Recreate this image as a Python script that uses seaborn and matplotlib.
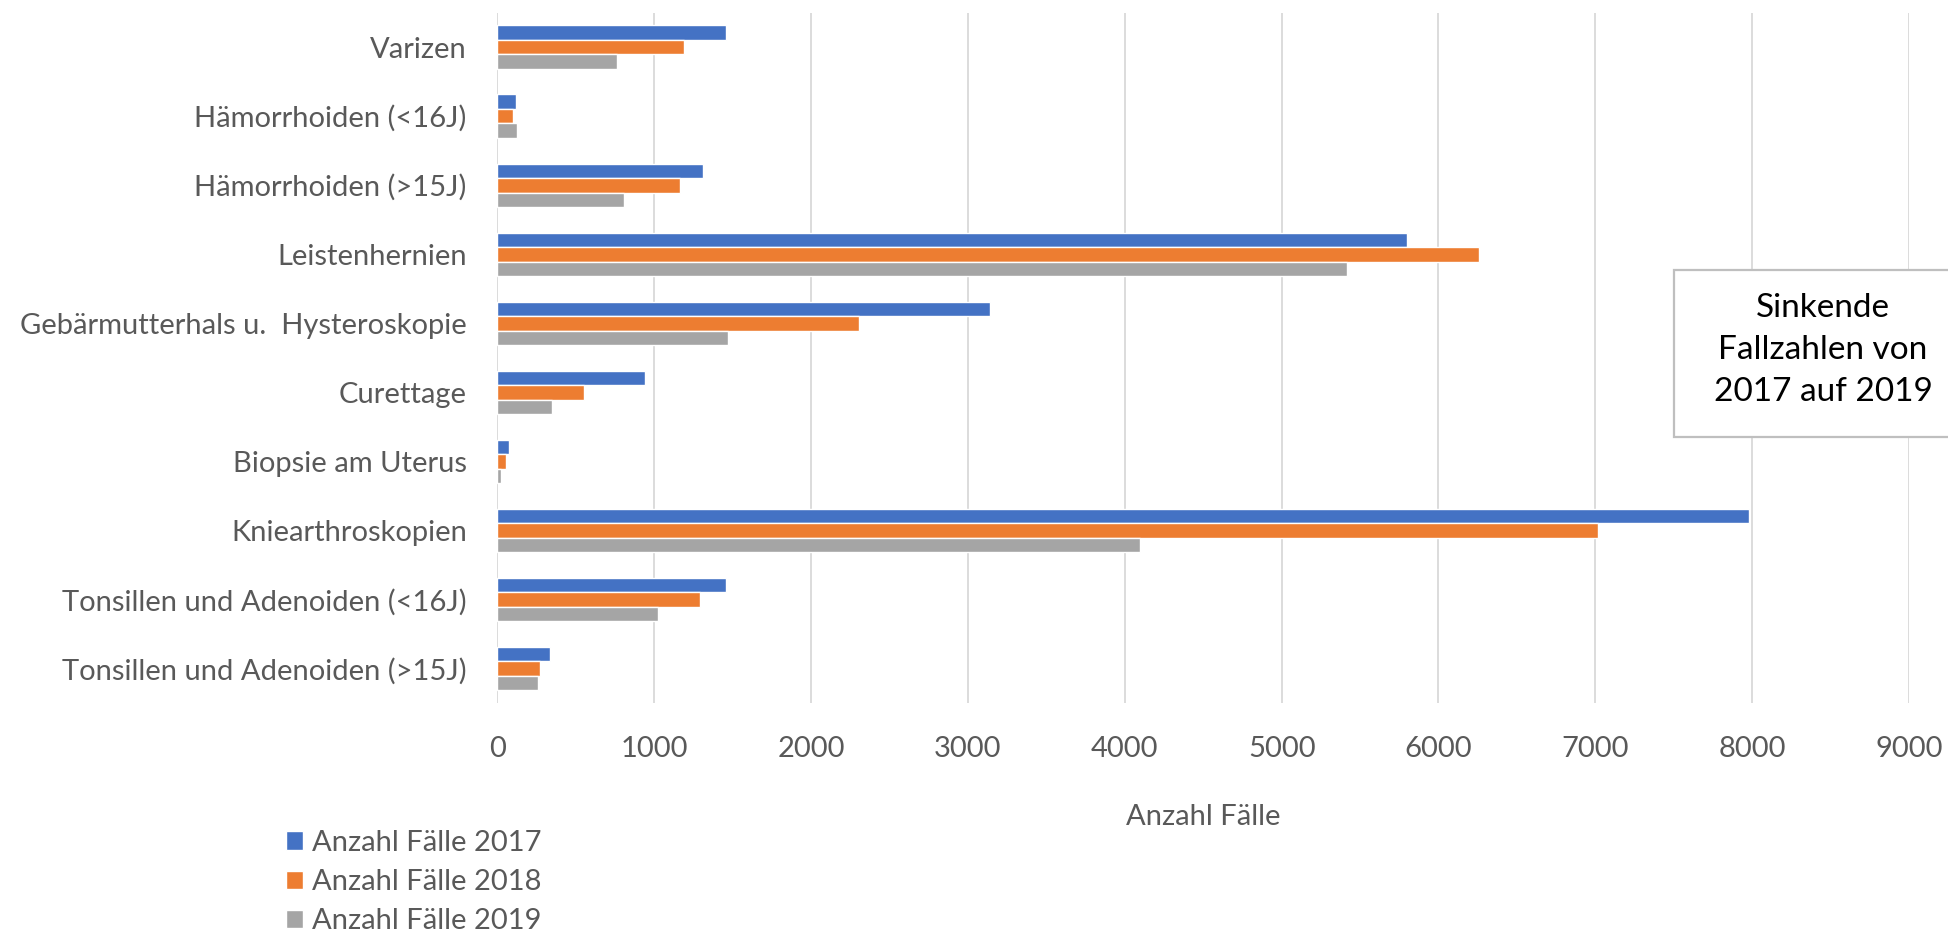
import matplotlib
matplotlib.use("Agg")
import matplotlib.pyplot as plt
from matplotlib.patches import Rectangle
import pandas as pd
import seaborn as sns

# Categories (top to bottom) and case counts per year
categories = [
    "Varizen",
    "Hämorrhoiden (<16J)",
    "Hämorrhoiden (>15J)",
    "Leistenhernien",
    "Gebärmutterhals u.  Hysteroskopie",
    "Curettage",
    "Biopsie am Uterus",
    "Kniearthroskopien",
    "Tonsillen und Adenoiden (<16J)",
    "Tonsillen und Adenoiden (>15J)",
]
faelle_2017 = [1455, 118, 1310, 5800, 3140, 940, 73, 7980, 1460, 335]
faelle_2018 = [1190, 100, 1165, 6260, 2305, 552, 56, 7020, 1290, 272]
faelle_2019 = [762, 124, 808, 5414, 1471, 346, 22, 4100, 1021, 262]
series_labels = ["Anzahl Fälle 2017", "Anzahl Fälle 2018", "Anzahl Fälle 2019"]
x_ticks = [0, 1000, 2000, 3000, 4000, 5000, 6000, 7000, 8000, 9000]
x_title = "Anzahl Fälle"
note_text = "Sinkende\nFallzahlen von\n2017 auf 2019"

colors = ["#4472C4", "#ED7D31", "#A5A5A5"]
text_grey = "#595959"
grid_grey = "#D9D9D9"

rows = []
for label, values in zip(series_labels, [faelle_2017, faelle_2018, faelle_2019]):
    for cat, v in zip(categories, values):
        rows.append({"Kategorie": cat, "Serie": label, "Faelle": v})
df = pd.DataFrame(rows)

sns.set_style("white")
plt.rcParams["font.family"] = ["Lato", "DejaVu Sans"]

fig = plt.figure(figsize=(19.49, 9.33), dpi=100)
ax = fig.add_axes([0.2552, 0.2465, 0.9795 - 0.2552, 0.9864 - 0.2465])

sns.barplot(
    data=df, y="Kategorie", x="Faelle", hue="Serie",
    order=categories, hue_order=series_labels, palette=colors,
    width=0.63, orient="h", ax=ax, saturation=1, legend=True,
)

ax.set_xlim(0, 9000)
ax.set_ylim(len(categories) - 0.5, -0.5)
ax.set_xticks(x_ticks)
ax.set_xticklabels([str(t) for t in x_ticks])
ax.xaxis.grid(True, color=grid_grey, linewidth=1.3)
ax.yaxis.grid(False)
ax.set_axisbelow(True)
for s in ax.spines.values():
    s.set_visible(False)

ax.tick_params(axis="both", length=0, labelcolor=text_grey, labelsize=21)
ax.tick_params(axis="y", pad=22)
ax.tick_params(axis="x", pad=24)
ax.set_ylabel("")
ax.set_xlabel(x_title, fontsize=21, color=text_grey, labelpad=30)

sns.move_legend(
    ax, loc="upper left", bbox_to_anchor=(286 / 1949, 1 - 830 / 933),
    bbox_transform=fig.transFigure, frameon=False, title=None,
    fontsize=21, handlelength=0.6, handleheight=0.6, handletextpad=0.3,
    labelspacing=0.45, borderaxespad=0, borderpad=0,
)
for t in ax.get_legend().get_texts():
    t.set_color(text_grey)

# Annotation box at the right edge
fig.patches.append(Rectangle(
    (1674 / 1949, 1 - 437 / 933), 300 / 1949, 167 / 933,
    transform=fig.transFigure, facecolor="white", edgecolor="#BFBFBF",
    linewidth=1.6, zorder=5,
))
fig.text(1823 / 1949, 1 - 350 / 933, note_text, ha="center", va="center",
         fontsize=24, color="black", linespacing=1.5, zorder=6)

fig.savefig("out.png", dpi=100, facecolor="white")
